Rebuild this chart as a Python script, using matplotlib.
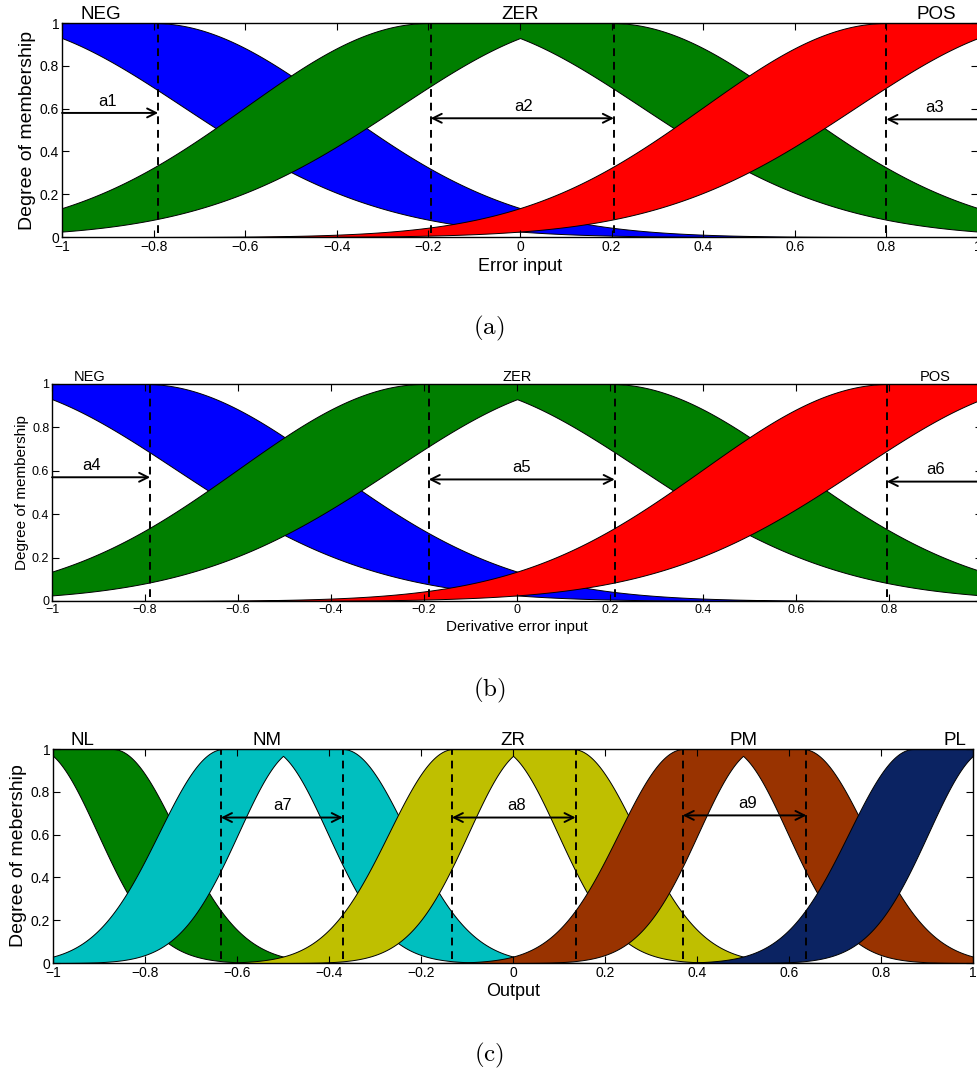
import matplotlib
matplotlib.use("Agg")
import matplotlib.pyplot as plt
import numpy as np

plt.rcParams['font.family'] = ['Liberation Sans', 'DejaVu Sans']
plt.rcParams['mathtext.fontset'] = 'cm'

# ---- data ----
# panels (a) and (b): error / derivative error input, 3 interval type-2 sets
err_names = ['NEG', 'ZER', 'POS']
err_centers = [-1.0, 0.0, 1.0]
err_colors = ['#0000FF', '#007F00', '#FF0000']
err_flat = 0.2        # half width of the flat top of the upper MF
err_sig_up = 0.40     # spread of the upper MF
err_off_lo = 0.164    # offset of the lower MF
err_sig_lo = 0.43     # spread of the lower MF
err_dash = [-0.79, -0.195, 0.205, 0.80]
err_name_x = [-0.915, 0.0, 0.91]

# panel (c): output, 5 sets
out_names = ['NL', 'NM', 'ZR', 'PM', 'PL']
out_centers = [-1.0, -0.5, 0.0, 0.5, 1.0]
out_colors = ['#007F00', '#00BFBF', '#BFBF00', '#993300', '#0B2362']
out_flat = 0.13
out_sig_up = 0.14
out_off_lo = 0.033
out_sig_lo = 0.13
out_dash = [-0.635, -0.37, -0.133, 0.136, 0.369, 0.638]
out_name_x = [-0.935, -0.535, 0.0, 0.5, 0.96]

x_ticks = [-1, -0.8, -0.6, -0.4, -0.2, 0, 0.2, 0.4, 0.6, 0.8, 1]
y_ticks = [0, 0.2, 0.4, 0.6, 0.8, 1]


def upper_mf(x, c, w, s):
    d = np.clip(np.abs(x - c) - w, 0, None)
    return np.exp(-d ** 2 / (2 * s ** 2))


def lower_mf(x, c, o, s):
    return np.exp(-(np.abs(x - c) + o) ** 2 / (2 * s ** 2))


def fmt(v):
    s = '%g' % v
    return s.replace('-', '\u2212')


def draw_sets(ax, centers, colors, flat, su, off, sl):
    x = np.linspace(-1, 1, 801)
    for c, col in zip(centers, colors):
        up = upper_mf(x, c, flat, su)
        lo = lower_mf(x, c, off, sl)
        ax.fill_between(x, lo, up, facecolor=col, edgecolor='k', linewidth=0.7)


def style_axes(ax, tick_size):
    ax.set_xlim(-1, 1)
    ax.set_ylim(0, 1)
    ax.set_xticks(x_ticks)
    ax.set_xticklabels([fmt(v) for v in x_ticks], fontsize=tick_size)
    ax.set_yticks(y_ticks)
    ax.set_yticklabels([fmt(v) for v in y_ticks], fontsize=tick_size)
    ax.tick_params(direction='in', top=True, right=True, length=5, width=0.8, pad=2)
    for sp in ax.spines.values():
        sp.set_linewidth(1.0)


def dashes(ax, xs):
    for xv in xs:
        ax.plot([xv, xv], [0.02, 1.0], 'k--', lw=1.4, dashes=(4, 3))


def arrow(ax, x0, x1, y, style='->'):
    ax.annotate('', xy=(x1, y), xytext=(x0, y),
                arrowprops=dict(arrowstyle=style, lw=1.4, color='k',
                                mutation_scale=16, shrinkA=0, shrinkB=0))


fig = plt.figure(figsize=(9.78, 10.77), dpi=100)

# ---------- (a) ----------
ax1 = fig.add_axes([0.0634, 0.7799, 0.9366, 0.1987])
draw_sets(ax1, err_centers, err_colors, err_flat, err_sig_up, err_off_lo, err_sig_lo)
style_axes(ax1, 10)
dashes(ax1, err_dash)
for n, xv in zip(err_names, err_name_x):
    ax1.text(xv, 1.0, n, ha='center', va='bottom', fontsize=13.5)
arrow(ax1, -1.0, err_dash[0], 0.58)
ax1.text(-0.90, 0.60, 'a1', ha='center', va='bottom', fontsize=12)
arrow(ax1, err_dash[1], err_dash[2], 0.555, '<->')
ax1.text(0.007, 0.575, 'a2', ha='center', va='bottom', fontsize=12)
arrow(ax1, 1.0, err_dash[3], 0.55)
ax1.text(0.906, 0.57, 'a3', ha='center', va='bottom', fontsize=12)
ax1.set_ylabel('Degree of membership', fontsize=14, labelpad=3)
ax1.set_xlabel('Error input', fontsize=13, labelpad=3)

# ---------- (b) ----------
ax2 = fig.add_axes([0.0532, 0.442, 0.951, 0.2015])
draw_sets(ax2, err_centers, err_colors, err_flat, err_sig_up, err_off_lo, err_sig_lo)
style_axes(ax2, 9)
dashes(ax2, [-0.789, -0.19, 0.21, 0.795])
for n, xv in zip(err_names, [-0.92, 0.0, 0.90]):
    ax2.text(xv, 1.0, n, ha='center', va='bottom', fontsize=10.5)
arrow(ax2, -1.0, -0.789, 0.57)
ax2.text(-0.914, 0.59, 'a4', ha='center', va='bottom', fontsize=12)
arrow(ax2, -0.19, 0.21, 0.56, '<->')
ax2.text(0.01, 0.58, 'a5', ha='center', va='bottom', fontsize=12)
arrow(ax2, 1.0, 0.795, 0.55)
ax2.text(0.90, 0.57, 'a6', ha='center', va='bottom', fontsize=12)
ax2.set_ylabel('Degree of membership', fontsize=11, labelpad=2)
ax2.set_xlabel('Derivative error input', fontsize=11, labelpad=3)

# ---------- (c) ----------
ax3 = fig.add_axes([0.0542, 0.1058, 0.9407, 0.1987])
draw_sets(ax3, out_centers, out_colors, out_flat, out_sig_up, out_off_lo, out_sig_lo)
style_axes(ax3, 10)
dashes(ax3, out_dash)
for n, xv in zip(out_names, out_name_x):
    ax3.text(xv, 1.0, n, ha='center', va='bottom', fontsize=13.5)
arrow(ax3, out_dash[0], out_dash[1], 0.68, '<->')
ax3.text(-0.502, 0.70, 'a7', ha='center', va='bottom', fontsize=12)
arrow(ax3, out_dash[2], out_dash[3], 0.68, '<->')
ax3.text(0.008, 0.70, 'a8', ha='center', va='bottom', fontsize=12)
arrow(ax3, out_dash[4], out_dash[5], 0.69, '<->')
ax3.text(0.511, 0.71, 'a9', ha='center', va='bottom', fontsize=12)
ax3.set_ylabel('Degree of mebership', fontsize=14, labelpad=3)
ax3.set_xlabel('Output', fontsize=13, labelpad=2)

# sub captions
fig.text(0.5, 0.695, r'$\mathrm{(a)}$', ha='center', va='center', fontsize=18)
fig.text(0.5, 0.359, r'$\mathrm{(b)}$', ha='center', va='center', fontsize=18)
fig.text(0.5, 0.0204, r'$\mathrm{(c)}$', ha='center', va='center', fontsize=18)

fig.savefig('out.png', dpi=100)
